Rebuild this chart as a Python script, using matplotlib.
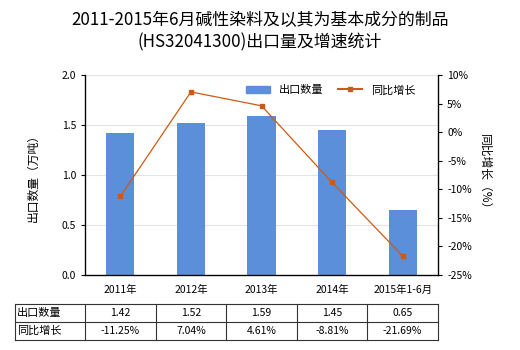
import matplotlib
matplotlib.use("Agg")
import matplotlib.pyplot as plt
from matplotlib.lines import Line2D
from matplotlib.patches import Patch

plt.rcParams['font.family'] = ['Noto Sans CJK SC', 'DejaVu Sans']

categories = ['2011年', '2012年', '2013年', '2014年', '2015年1-6月']
export_qty = [1.42, 1.52, 1.59, 1.45, 0.65]
growth = [-11.25, 7.04, 4.61, -8.81, -21.69]
qty_labels = ['1.42', '1.52', '1.59', '1.45', '0.65']
growth_labels = ['-11.25%', '7.04%', '4.61%', '-8.81%', '-21.69%']
left_ticks = [0.0, 0.5, 1.0, 1.5, 2.0]
right_ticks = [10, 5, 0, -5, -10, -15, -20, -25]

W, H = 520, 350
fig = plt.figure(figsize=(W/100, H/100), dpi=100)
ax_l, ax_r, ax_t, ax_b = 85, 438, 75, 275
ax = fig.add_axes([ax_l/W, 1-ax_b/H, (ax_r-ax_l)/W, (ax_b-ax_t)/H])

bar_color = '#5b8fd9'
line_color = '#cc5a14'
x = list(range(len(categories)))
ax.bar(x, export_qty, width=0.4, color=bar_color, zorder=2)
ax.set_xlim(-0.5, len(categories)-0.5)
ax.set_ylim(0, 2.0)
ax.set_yticks(left_ticks)
ax.set_yticklabels([f'{v:.1f}' for v in left_ticks])
ax.set_xticks(x)
ax.set_xticklabels(categories)
ax.grid(axis='y', color='#e3e3e3', linewidth=0.8, zorder=0)
ax.tick_params(axis='both', labelsize=7.5, colors='black', length=3, width=0.8)
ax.tick_params(axis='x', length=0, pad=7)
ax.spines['top'].set_visible(False)
for s in ['left', 'right', 'bottom']:
    ax.spines[s].set_linewidth(0.9)
ax.set_ylabel('出口数量（万吨）', fontsize=8.5, labelpad=16)

ax2 = ax.twinx()
ax2.plot(x, growth, color=line_color, linewidth=0.9, marker='s', markersize=3, zorder=3)
ax2.set_ylim(-25, 10)
ax2.set_yticks(right_ticks)
ax2.set_yticklabels([f'{v}%' for v in right_ticks])
ax2.tick_params(axis='y', labelsize=7.5, length=3, width=0.8)
ax2.spines['top'].set_visible(False)
ax2.set_ylabel('同比增长（%）', fontsize=8.5, rotation=-90, labelpad=14)

handles = [Patch(color=bar_color), Line2D([0], [0], color=line_color, marker='s', markersize=3, linewidth=1.5)]
ax.legend(handles, ['出口数量', '同比增长'], loc='upper right', bbox_to_anchor=(0.965, 1.0),
          ncol=2, frameon=False, fontsize=8, handlelength=2.2, columnspacing=1.3)

fig.text(0.5, 1-20/H, '2011-2015年6月碱性染料及以其为基本成分的制品', ha='center', va='center', fontsize=12.2)
fig.text(0.5, 1-42/H, '(HS32041300)出口量及增速统计', ha='center', va='center', fontsize=12.2)

# table
tx0, tx1 = 15, 438
col_edges = [15] + [ax_l + i*(ax_r-ax_l)/5 for i in range(6)]
row_edges = [304, 322, 340]
def fx(px): return px/W
def fy(py): return 1-py/H
for ry in row_edges:
    fig.add_artist(Line2D([fx(tx0), fx(tx1)], [fy(ry), fy(ry)], color='#333333', linewidth=0.8))
for cx in col_edges:
    fig.add_artist(Line2D([fx(cx), fx(cx)], [fy(row_edges[0]), fy(row_edges[-1])], color='#333333', linewidth=0.8))
rows = [('出口数量', qty_labels), ('同比增长', growth_labels)]
for r, (name, vals) in enumerate(rows):
    yc = (row_edges[r] + row_edges[r+1]) / 2
    fig.text(fx(17), fy(yc), name, ha='left', va='center', fontsize=8)
    for i, v in enumerate(vals):
        xc = (col_edges[i+1] + col_edges[i+2]) / 2
        fig.text(fx(xc), fy(yc), v, ha='center', va='center', fontsize=7.5)

fig.savefig('out.png', dpi=100)
